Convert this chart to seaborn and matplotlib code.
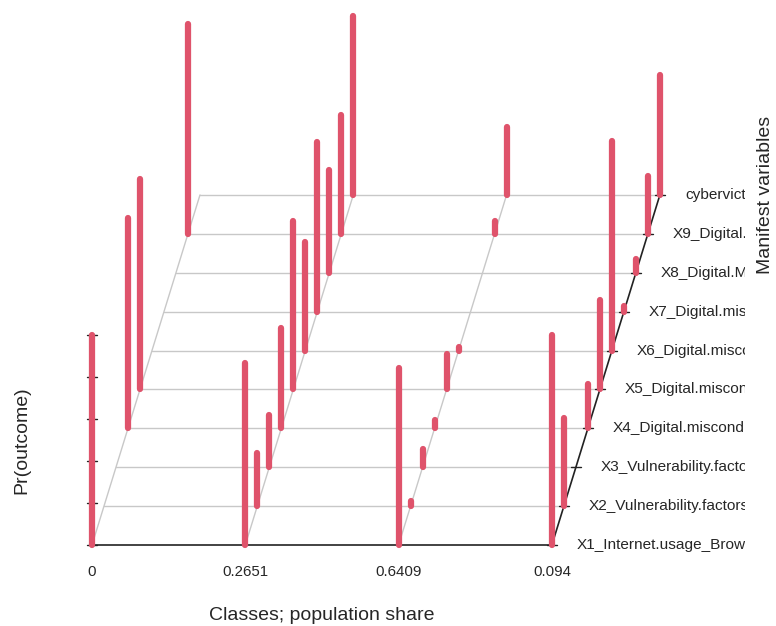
import numpy as np
import pandas as pd
import matplotlib
matplotlib.use("Agg")
import matplotlib.pyplot as plt
import seaborn as sns

# class labels (population share) and manifest variables
class_labels = ["0", "0.2651", "0.6409", "0.094"]
var_labels = ["X1_Internet.usage_Browsing",
              "X2_Vulnerability.factors",
              "X3_Vulnerability.factors",
              "X4_Digital.misconduct",
              "X5_Digital.misconduct",
              "X6_Digital.misconduct",
              "X7_Digital.misconduct",
              "X8_Digital.Misconduct",
              "X9_Digital.misconduct",
              "cybervictimization"]

# Pr(outcome) per class, one value per manifest variable (X1 ... cybervict)
class0 = [1.00, 0.00, 0.00, 1.00, 1.00, 0.00, 0.00, 0.00, 1.00, 0.00]
class1 = [0.865, 0.255, 0.25, 0.48, 0.80, 0.515, 0.81, 0.49, 0.565, 0.85]
class2 = [0.845, 0.025, 0.085, 0.04, 0.17, 0.015, 0.00, 0.00, 0.06, 0.325]
class3 = [1.00, 0.42, 0.00, 0.21, 0.425, 1.00, 0.025, 0.065, 0.275, 0.57]

probs = np.array([class0, class1, class2, class3])
n_class, n_var = probs.shape

# oblique projection (pixels)
X0, Y0 = 92, 545
DX_CLASS = 153.3
DX_VAR, DY_VAR = 12.0, 38.9
Z_SCALE = 210.0

def proj(c, v, p):
    return X0 + DX_CLASS * c + DX_VAR * v, Y0 - DY_VAR * v - Z_SCALE * p

red = "#DF536B"
grid_col = "#C8C8C8"
txt = "#262626"

sns.set_theme(style="white")
plt.rcParams["font.family"] = ["Liberation Sans", "DejaVu Sans"]

W, H = 776, 626
fig = plt.figure(figsize=(W / 100, H / 100), dpi=100)
right_px = 745
ax = fig.add_axes([0, 0, right_px / W, 1])

# floor grid: rows and class diagonals
for v in range(1, n_var):
    xa, ya = proj(0, v, 0)
    xb, yb = proj(n_class - 1, v, 0)
    ax.plot([xa, xb], [ya, yb], color=grid_col, lw=1, zorder=1)
for c in range(n_class - 1):
    xa, ya = proj(c, 0, 0)
    xb, yb = proj(c, n_var - 1, 0)
    ax.plot([xa, xb], [ya, yb], color=grid_col, lw=1, zorder=1)

# axes in black
xa, ya = proj(0, 0, 0)
xb, yb = proj(n_class - 1, 0, 0)
ax.plot([xa, xb], [ya, yb], color="#222222", lw=1.2, zorder=2)
xa, ya = proj(n_class - 1, 0, 0)
xb, yb = proj(n_class - 1, n_var - 1, 0)
ax.plot([xa, xb], [ya, yb], color="#222222", lw=1.2, zorder=2)
for v in range(n_var):
    x, y = proj(n_class - 1, v, 0)
    ax.plot([x - 5, x + 5], [y, y], color="#222222", lw=1, zorder=2)
xa, ya = proj(0, 0, 0)
xb, yb = proj(0, 0, 1)
ax.plot([xa, xb], [ya, yb], color="#222222", lw=1.2, zorder=2)
for t in np.linspace(0, 1, 6):
    x, y = proj(0, 0, t)
    ax.plot([x - 5, x + 5], [y, y], color="#222222", lw=1, zorder=2)

# bars as long-form segments
rows = []
bar_id = 0
for c in range(n_class):
    for v in range(n_var):
        p = probs[c, v]
        if p <= 0:
            continue
        for z in (0, p):
            sx, sy = proj(c, v, z)
            rows.append({"sx": sx, "sy": sy, "bar": bar_id})
        bar_id += 1
bars = pd.DataFrame(rows)
sns.lineplot(data=bars, x="sx", y="sy", units="bar", estimator=None,
             sort=False, color=red, lw=4.5, solid_capstyle="round",
             ax=ax, zorder=3, legend=False)
ax.set_xlim(0, right_px)
ax.set_ylim(H, 0)
ax.axis("off")

# labels
for c, lab in enumerate(class_labels):
    x, y = proj(c, 0, 0)
    ax.text(x, y + 27, lab, ha="center", va="center", fontsize=10.8,
            color=txt)
for v, lab in enumerate(var_labels):
    x, y = proj(n_class - 1, v, 0)
    ax.text(x + 25, y, lab, ha="left", va="center", fontsize=11.1,
            color=txt, clip_on=True)

ax.text(322, 615, "Classes; population share", ha="center", va="center",
        fontsize=14, color=txt)
ax.text(22, 440, "Pr(outcome)", ha="center", va="center", rotation=90,
        fontsize=14, color=txt)
fig.text(765 / W, 1 - 195 / H, "Manifest variables", ha="center",
         va="center", rotation=90, fontsize=14, color=txt)

fig.savefig("out.png", dpi=100)
